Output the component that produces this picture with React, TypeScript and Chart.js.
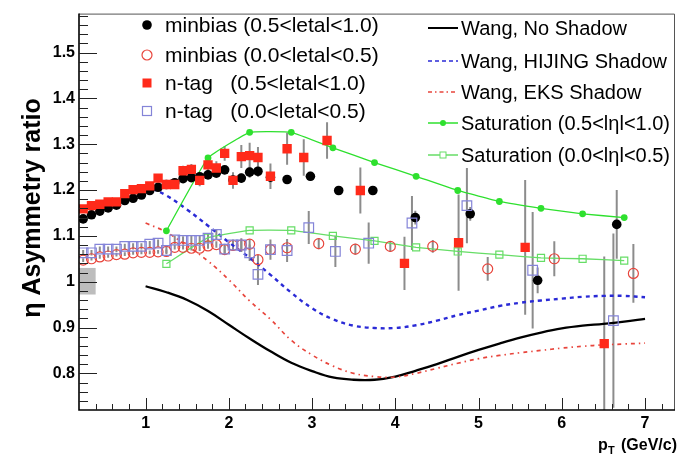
import React, { useEffect, useRef } from "react";
import { Chart, registerables } from "chart.js";

Chart.register(...registerables);

const FONT = '"Liberation Sans", Arial, Helvetica, sans-serif';

// ---------------- axes ----------------
const xMin = 0.2;
const xMax = 7.36;
const yMin = 0.72;
const yMax = 1.585;
const xTickValues = [1, 2, 3, 4, 5, 6, 7];
const xTickLabels = ["1", "2", "3", "4", "5", "6", "7"];
const yTickValues = [0.8, 0.9, 1.0, 1.1, 1.2, 1.3, 1.4, 1.5];
const yTickLabels = ["0.8", "0.9", "1", "1.1", "1.2", "1.3", "1.4", "1.5"];

// ---------------- data: minbias 0.5<|eta|<1.0 (black filled circles) ----------------
const mbHighX = [0.25, 0.35, 0.45, 0.55, 0.65, 0.75, 0.85, 0.95, 1.05, 1.15, 1.25, 1.35, 1.45, 1.55, 1.65, 1.75, 1.85, 1.95, 2.05, 2.15, 2.25, 2.35, 2.5, 2.7, 2.98, 3.32, 3.73, 4.24, 4.9, 5.71, 6.66];
const mbHighY = [1.137, 1.146, 1.154, 1.161, 1.167, 1.177, 1.182, 1.189, 1.199, 1.206, 1.212, 1.216, 1.225, 1.227, 1.229, 1.233, 1.237, 1.244, 1.222, 1.226, 1.239, 1.241, 1.228, 1.223, 1.230, 1.199, 1.199, 1.140, 1.148, 1.003, 1.125];
const mbHighErr = [0.005, 0.005, 0.005, 0.005, 0.005, 0.005, 0.005, 0.005, 0.005, 0.005, 0.005, 0.005, 0.005, 0.006, 0.006, 0.006, 0.006, 0.007, 0.008, 0.01, 0.012, 0.012, 0.012, 0.01, 0.01, 0.01, 0.01, 0.015, 0.015, 0.028, 0.075];

// ---------------- data: minbias 0.0<|eta|<0.5 (red open circles) ----------------
const mbLowX = [0.25, 0.35, 0.45, 0.55, 0.65, 0.75, 0.85, 0.95, 1.05, 1.15, 1.25, 1.35, 1.45, 1.55, 1.65, 1.75, 1.85, 1.95, 2.05, 2.15, 2.25, 2.35, 2.5, 2.7, 3.08, 3.52, 3.94, 4.45, 5.11, 5.91, 6.86];
const mbLowY = [1.047, 1.050, 1.054, 1.056, 1.059, 1.060, 1.063, 1.064, 1.064, 1.065, 1.066, 1.075, 1.075, 1.073, 1.073, 1.078, 1.081, 1.070, 1.079, 1.080, 1.082, 1.048, 1.070, 1.074, 1.083, 1.071, 1.077, 1.077, 1.028, 1.050, 1.018];
const mbLowErr = [0.004, 0.004, 0.004, 0.004, 0.004, 0.004, 0.004, 0.004, 0.004, 0.004, 0.004, 0.005, 0.005, 0.005, 0.006, 0.006, 0.007, 0.008, 0.008, 0.009, 0.01, 0.01, 0.012, 0.012, 0.012, 0.012, 0.012, 0.014, 0.026, 0.038, 0.064];

// ---------------- data: n-tag 0.5<|eta|<1.0 (red filled squares) ----------------
const ntHighX = [0.25, 0.35, 0.45, 0.55, 0.65, 0.75, 0.85, 0.95, 1.05, 1.15, 1.25, 1.35, 1.45, 1.55, 1.65, 1.75, 1.85, 1.95, 2.05, 2.15, 2.25, 2.35, 2.5, 2.7, 2.9, 3.18, 3.58, 4.11, 4.76, 5.56, 6.51];
const ntHighY = [1.159, 1.166, 1.169, 1.174, 1.174, 1.192, 1.201, 1.203, 1.209, 1.226, 1.212, 1.212, 1.242, 1.245, 1.221, 1.255, 1.248, 1.280, 1.221, 1.273, 1.275, 1.271, 1.230, 1.290, 1.271, 1.308, 1.199, 1.040, 1.085, 1.075, 0.865];
const ntHighErr = [0.007, 0.007, 0.007, 0.007, 0.007, 0.008, 0.008, 0.008, 0.008, 0.009, 0.01, 0.01, 0.011, 0.012, 0.013, 0.015, 0.015, 0.016, 0.018, 0.025, 0.028, 0.023, 0.028, 0.035, 0.04, 0.04, 0.05, 0.058, 0.105, 0.147, 0.19];

// ---------------- data: n-tag 0.0<|eta|<0.5 (blue open squares) ----------------
const ntLowX = [0.25, 0.35, 0.45, 0.55, 0.65, 0.75, 0.85, 0.95, 1.05, 1.15, 1.25, 1.35, 1.45, 1.55, 1.65, 1.75, 1.85, 1.95, 2.05, 2.15, 2.25, 2.35, 2.5, 2.7, 2.96, 3.28, 3.68, 4.2, 4.86, 5.65, 6.62];
const ntLowY = [1.063, 1.063, 1.071, 1.071, 1.071, 1.077, 1.077, 1.077, 1.082, 1.084, 1.068, 1.091, 1.090, 1.090, 1.090, 1.095, 1.103, 1.071, 1.080, 1.080, 1.063, 1.016, 1.070, 1.068, 1.118, 1.066, 1.084, 1.128, 1.166, 1.025, 0.915];
const ntLowErr = [0.006, 0.006, 0.006, 0.006, 0.006, 0.006, 0.007, 0.007, 0.007, 0.008, 0.008, 0.009, 0.009, 0.01, 0.01, 0.011, 0.011, 0.012, 0.012, 0.015, 0.018, 0.023, 0.022, 0.025, 0.036, 0.034, 0.045, 0.059, 0.082, 0.127, 0.19];

// ---------------- Saturation model ----------------
const satX = [1.25, 1.75, 2.25, 2.75, 3.25, 3.75, 4.25, 4.75, 5.25, 5.75, 6.25, 6.75];
const satHighY = [1.111, 1.270, 1.326, 1.326, 1.292, 1.260, 1.230, 1.199, 1.175, 1.160, 1.148, 1.140];
const satLowY = [1.039, 1.096, 1.112, 1.112, 1.100, 1.089, 1.075, 1.066, 1.059, 1.052, 1.050, 1.046];

// ---------------- Wang curves ----------------
const wangX = [1.0, 1.25, 1.5, 1.75, 2.0, 2.25, 2.5, 2.75, 3.0, 3.25, 3.5, 3.75, 4.0, 4.25, 4.5, 4.75, 5.0, 5.25, 5.5, 5.75, 6.0, 6.25, 6.5, 6.75, 7.0];
const wangNoShadowY = [0.990, 0.977, 0.960, 0.936, 0.906, 0.876, 0.848, 0.823, 0.805, 0.791, 0.786, 0.786, 0.793, 0.806, 0.820, 0.836, 0.851, 0.865, 0.878, 0.889, 0.898, 0.904, 0.908, 0.913, 0.919];
const wangHijingY = [1.210, 1.188, 1.157, 1.122, 1.086, 1.052, 1.015, 0.976, 0.942, 0.918, 0.904, 0.899, 0.899, 0.905, 0.915, 0.927, 0.937, 0.947, 0.954, 0.959, 0.963, 0.967, 0.969, 0.969, 0.966];
const wangEksY = [1.128, 1.108, 1.078, 1.045, 1.004, 0.958, 0.918, 0.872, 0.840, 0.816, 0.800, 0.793, 0.792, 0.800, 0.811, 0.822, 0.832, 0.839, 0.845, 0.850, 0.855, 0.859, 0.862, 0.864, 0.866];

// systematic band near 1
const sysBoxX = [0.2, 0.4];
const sysBoxY = [0.972, 1.03];

// ---------------- legend texts ----------------
const leftLegend = [
  "minbias (0.5<letal<1.0)",
  "minbias (0.0<letal<0.5)",
  "n-tag   (0.5<letal<1.0)",
  "n-tag   (0.0<letal<0.5)",
];
const rightLegend = [
  "Wang, No Shadow",
  "Wang, HIJING Shadow",
  "Wang, EKS Shadow",
  "Saturation (0.5<lηl<1.0)",
  "Saturation (0.0<lηl<0.5)",
];

// ---------------- styles ----------------
const C_BLACK = "#000000";
const C_RED_SQ = "#ff2a1a";
const C_RED_CIRC = "#e8453c";
const C_BLUE_SQ = "#8484d8";
const C_HIJING = "#2a2ad6";
const C_EKS = "#e8453c";
const C_SAT_HI = "#2ee02e";
const C_SAT_LO = "#66dd66";
const C_ERR = "#8c8c8c";

const pts = (xs: number[], ys: number[]) => xs.map((x, i) => ({ x, y: ys[i] }));

const errorSeries = [
  { xs: mbHighX, ys: mbHighY, es: mbHighErr },
  { xs: mbLowX, ys: mbLowY, es: mbLowErr },
  { xs: ntHighX, ys: ntHighY, es: ntHighErr },
  { xs: ntLowX, ys: ntLowY, es: ntLowErr },
];

function drawMarker(ctx: CanvasRenderingContext2D, kind: string, x: number, y: number) {
  ctx.save();
  if (kind === "blackCircle") {
    ctx.fillStyle = C_BLACK;
    ctx.beginPath();
    ctx.arc(x, y, 4.8, 0, Math.PI * 2);
    ctx.fill();
  } else if (kind === "redCircle") {
    ctx.strokeStyle = C_RED_CIRC;
    ctx.lineWidth = 1.2;
    ctx.beginPath();
    ctx.arc(x, y, 5, 0, Math.PI * 2);
    ctx.stroke();
  } else if (kind === "redSquare") {
    ctx.fillStyle = C_RED_SQ;
    ctx.fillRect(x - 4.5, y - 4.5, 9, 9);
  } else if (kind === "blueSquare") {
    ctx.strokeStyle = C_BLUE_SQ;
    ctx.lineWidth = 1.2;
    ctx.strokeRect(x - 4.5, y - 4.5, 9, 9);
  }
  ctx.restore();
}

const rootPlugin = {
  id: "rootStyle",
  beforeDatasetsDraw(chart: any) {
    const { ctx, chartArea: a } = chart;
    const xs = chart.scales.x;
    const ys = chart.scales.y;
    ctx.save();
    ctx.beginPath();
    ctx.rect(a.left, a.top, a.right - a.left, a.bottom - a.top);
    ctx.clip();
    // systematic box
    ctx.fillStyle = "#bdbdbd";
    const bx0 = xs.getPixelForValue(sysBoxX[0]);
    const bx1 = xs.getPixelForValue(sysBoxX[1]);
    const by0 = ys.getPixelForValue(sysBoxY[1]);
    const by1 = ys.getPixelForValue(sysBoxY[0]);
    ctx.fillRect(bx0, by0, bx1 - bx0, by1 - by0);
    // error bars
    ctx.strokeStyle = C_ERR;
    ctx.lineWidth = 2;
    for (const s of errorSeries) {
      for (let i = 0; i < s.xs.length; i++) {
        const px = xs.getPixelForValue(s.xs[i]);
        const p1 = ys.getPixelForValue(s.ys[i] + s.es[i]);
        const p2 = ys.getPixelForValue(s.ys[i] - s.es[i]);
        ctx.beginPath();
        ctx.moveTo(px, p1);
        ctx.lineTo(px, p2);
        ctx.stroke();
      }
    }
    ctx.restore();
  },
  afterDraw(chart: any) {
    const { ctx, chartArea: a } = chart;
    const xs = chart.scales.x;
    const ys = chart.scales.y;
    ctx.save();
    // frame
    ctx.strokeStyle = "#555";
    ctx.lineWidth = 1;
    ctx.beginPath();
    ctx.moveTo(a.left, a.top + 0.5);
    ctx.lineTo(a.right - 0.5, a.top + 0.5);
    ctx.lineTo(a.right - 0.5, a.bottom);
    ctx.stroke();
    ctx.strokeStyle = "#000";
    ctx.lineWidth = 1.6;
    ctx.beginPath();
    ctx.moveTo(a.left, a.top);
    ctx.lineTo(a.left, a.bottom);
    ctx.lineTo(a.right, a.bottom);
    ctx.stroke();

    // ticks (inward, ROOT style)
    ctx.lineWidth = 1;
    ctx.strokeStyle = "#222";
    ctx.beginPath();
    for (let i = 1; i <= 36; i++) {
      const v = i * 0.2;
      if (v <= xMin + 1e-6 || v >= xMax) continue;
      const major = Math.abs(v - Math.round(v)) < 1e-6;
      const px = Math.round(xs.getPixelForValue(v)) + 0.5;
      ctx.moveTo(px, a.bottom);
      ctx.lineTo(px, a.bottom - (major ? 12 : 6));
    }
    for (let i = 36; i <= 80; i++) {
      const v = i * 0.02;
      if (v <= yMin + 1e-6 || v >= yMax) continue;
      const major = i % 5 === 0;
      const py = Math.round(ys.getPixelForValue(v)) + 0.5;
      ctx.moveTo(a.left, py);
      ctx.lineTo(a.left + (major ? 18 : 9), py);
    }
    ctx.stroke();

    // axis titles
    ctx.fillStyle = "#000";
    ctx.textBaseline = "alphabetic";
    ctx.font = `bold 16px ${FONT}`;
    ctx.textAlign = "right";
    ctx.fillText("(GeV/c)", 677, 450);
    ctx.textAlign = "left";
    ctx.fillText("p", 598, 450);
    ctx.font = `bold 11px ${FONT}`;
    ctx.fillText("T", 608, 454);

    ctx.save();
    ctx.translate(40, 208);
    ctx.rotate(-Math.PI / 2);
    ctx.font = `bold 25px ${FONT}`;
    ctx.textAlign = "center";
    ctx.fillText("η Asymmetry ratio", 0, 0);
    ctx.restore();

    // left legend
    const leftRows = [25, 55, 83, 111];
    const leftKinds = ["blackCircle", "redCircle", "redSquare", "blueSquare"];
    ctx.font = `21px ${FONT}`;
    ctx.textAlign = "left";
    ctx.textBaseline = "middle";
    for (let i = 0; i < leftLegend.length; i++) {
      drawMarker(ctx, leftKinds[i], 147, leftRows[i]);
      ctx.fillStyle = "#000";
      ctx.fillText(leftLegend[i], 165, leftRows[i] + 1);
    }

    // right legend
    const rightRows = [28, 61, 92, 123, 155];
    ctx.font = `20px ${FONT}`;
    const lx0 = 428;
    const lx1 = 458;
    for (let i = 0; i < rightLegend.length; i++) {
      const y = rightRows[i];
      ctx.save();
      if (i === 0) {
        ctx.strokeStyle = C_BLACK;
        ctx.lineWidth = 2;
      } else if (i === 1) {
        ctx.strokeStyle = C_HIJING;
        ctx.lineWidth = 1.5;
        ctx.setLineDash([4, 3]);
      } else if (i === 2) {
        ctx.strokeStyle = C_EKS;
        ctx.lineWidth = 1.3;
        ctx.setLineDash([4, 3, 1.5, 3]);
      } else if (i === 3) {
        ctx.strokeStyle = C_SAT_HI;
        ctx.lineWidth = 1.5;
      } else {
        ctx.strokeStyle = C_SAT_LO;
        ctx.lineWidth = 1.5;
      }
      ctx.beginPath();
      ctx.moveTo(lx0, y);
      ctx.lineTo(lx1, y);
      ctx.stroke();
      ctx.setLineDash([]);
      if (i === 3) {
        ctx.fillStyle = C_SAT_HI;
        ctx.beginPath();
        ctx.arc((lx0 + lx1) / 2, y, 3, 0, Math.PI * 2);
        ctx.fill();
      } else if (i === 4) {
        ctx.fillStyle = "#fff";
        ctx.strokeStyle = C_SAT_LO;
        ctx.lineWidth = 1;
        ctx.fillRect((lx0 + lx1) / 2 - 3, y - 3, 6, 6);
        ctx.strokeRect((lx0 + lx1) / 2 - 3, y - 3, 6, 6);
      }
      ctx.restore();
      ctx.fillStyle = "#000";
      ctx.fillText(rightLegend[i], 461, y + 1);
    }
    ctx.restore();
  },
};

export default function App() {
  const ref = useRef<HTMLCanvasElement>(null);
  useEffect(() => {
    const canvas = ref.current;
    if (!canvas) return;
    const chart = new Chart(canvas, {
      type: "scatter",
      data: {
        datasets: [
          {
            label: "Wang, No Shadow",
            data: pts(wangX, wangNoShadowY),
            showLine: true,
            borderColor: C_BLACK,
            borderWidth: 2.3,
            pointRadius: 0,
            tension: 0.4,
            order: 20,
          },
          {
            label: "Wang, HIJING Shadow",
            data: pts(wangX, wangHijingY),
            showLine: true,
            borderColor: C_HIJING,
            borderWidth: 2.4,
            borderDash: [4, 4],
            pointRadius: 0,
            tension: 0.4,
            order: 19,
          },
          {
            label: "Wang, EKS Shadow",
            data: pts(wangX, wangEksY),
            showLine: true,
            borderColor: C_EKS,
            borderWidth: 1.7,
            borderDash: [4, 4, 1.5, 4],
            pointRadius: 0,
            tension: 0.4,
            order: 18,
          },
          {
            label: "Saturation (0.5<|η|<1.0)",
            data: pts(satX, satHighY),
            showLine: true,
            borderColor: C_SAT_HI,
            backgroundColor: C_SAT_HI,
            borderWidth: 1.3,
            pointRadius: 3.4,
            pointBorderWidth: 0,
            pointStyle: "circle",
            tension: 0.1,
            order: 12,
          },
          {
            label: "Saturation (0.0<|η|<0.5)",
            data: pts(satX, satLowY),
            showLine: true,
            borderColor: C_SAT_LO,
            backgroundColor: "rgba(255,255,255,0)",
            borderWidth: 1.3,
            pointRadius: 5,
            pointBorderWidth: 1.2,
            pointStyle: "rect",
            tension: 0.1,
            order: 11,
          },
          {
            label: "minbias (0.5<|eta|<1.0)",
            data: pts(mbHighX, mbHighY),
            showLine: false,
            backgroundColor: C_BLACK,
            borderColor: C_BLACK,
            pointRadius: 4.8,
            pointBorderWidth: 0,
            pointStyle: "circle",
            order: 4,
          },
          {
            label: "minbias (0.0<|eta|<0.5)",
            data: pts(mbLowX, mbLowY),
            showLine: false,
            backgroundColor: "rgba(255,255,255,0)",
            borderColor: C_RED_CIRC,
            pointRadius: 5,
            pointBorderWidth: 1.2,
            pointStyle: "circle",
            order: 2,
          },
          {
            label: "n-tag (0.5<|eta|<1.0)",
            data: pts(ntHighX, ntHighY),
            showLine: false,
            backgroundColor: C_RED_SQ,
            borderColor: C_RED_SQ,
            pointRadius: 6.6,
            pointBorderWidth: 0,
            pointStyle: "rect",
            order: 3,
          },
          {
            label: "n-tag (0.0<|eta|<0.5)",
            data: pts(ntLowX, ntLowY),
            showLine: false,
            backgroundColor: "rgba(255,255,255,0)",
            borderColor: C_BLUE_SQ,
            pointRadius: 6.8,
            pointBorderWidth: 1.2,
            pointStyle: "rect",
            order: 1,
          },
        ],
      },
      options: {
        responsive: false,
        maintainAspectRatio: false,
        devicePixelRatio: 1,
        animation: false,
        events: [],
        layout: { padding: { top: 7, right: 6, left: 0, bottom: 0 } },
        plugins: {
          legend: { display: false },
          tooltip: { enabled: false },
          title: { display: false },
        },
        scales: {
          x: {
            type: "linear",
            min: xMin,
            max: xMax,
            grid: { display: false, drawTicks: false, tickLength: 0 },
            border: { display: false },
            afterBuildTicks: (s: any) => {
              s.ticks = xTickValues.map((v) => ({ value: v }));
            },
            afterFit: (s: any) => {
              s.height = 46;
            },
            ticks: {
              autoSkip: false,
              maxRotation: 0,
              padding: 4,
              color: "#000",
              font: { family: FONT, size: 16, weight: "bold" },
              callback: (v: any) => {
                const idx = xTickValues.indexOf(Number(v));
                return idx >= 0 ? xTickLabels[idx] : "";
              },
            },
          },
          y: {
            type: "linear",
            min: yMin,
            max: yMax,
            grid: { display: false, drawTicks: false, tickLength: 0 },
            border: { display: false },
            afterBuildTicks: (s: any) => {
              s.ticks = yTickValues.map((v) => ({ value: v }));
            },
            afterFit: (s: any) => {
              s.width = 79;
            },
            ticks: {
              autoSkip: false,
              padding: 4,
              color: "#000",
              font: { family: FONT, size: 16, weight: "bold" },
              callback: (v: any) => {
                const idx = yTickValues.findIndex((t) => Math.abs(t - Number(v)) < 1e-9);
                return idx >= 0 ? yTickLabels[idx] : "";
              },
            },
          },
        },
      },
      plugins: [rootPlugin],
    } as any);
    return () => chart.destroy();
  }, []);
  return (
    <div style={{ position: "fixed", left: 0, top: 0, width: 683, height: 456, background: "#fff" }}>
      <canvas ref={ref} width={683} height={456} style={{ display: "block", width: 683, height: 456 }} />
    </div>
  );
}
